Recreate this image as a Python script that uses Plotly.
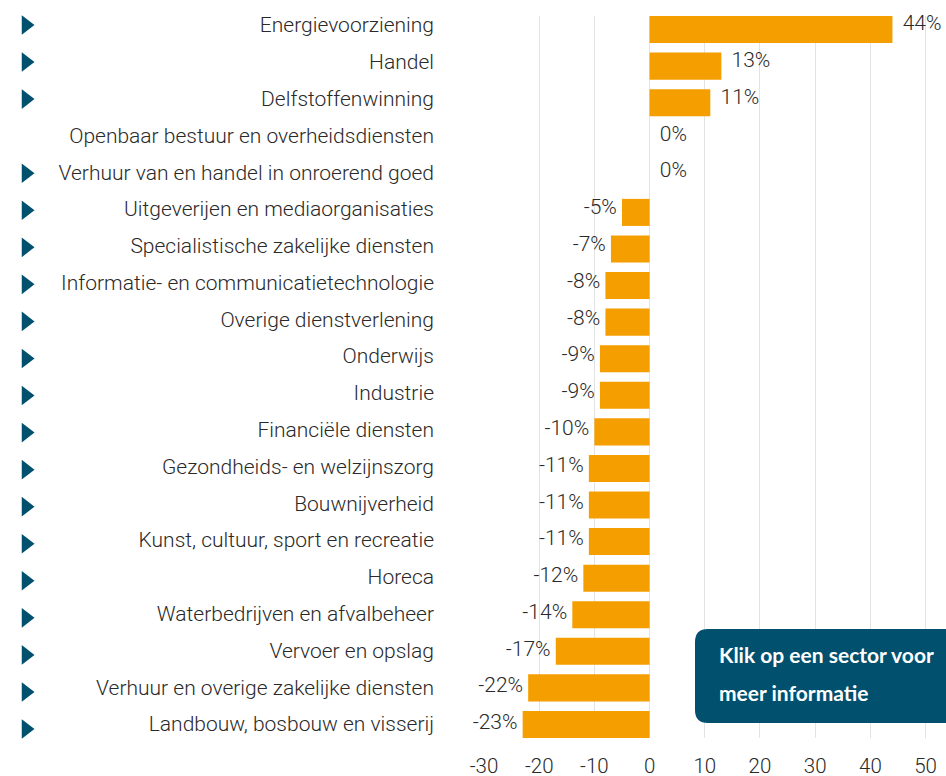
import plotly.graph_objects as go

categories = [
    "Energievoorziening", "Handel", "Delfstoffenwinning",
    "Openbaar bestuur en overheidsdiensten", "Verhuur van en handel in onroerend goed",
    "Uitgeverijen en mediaorganisaties", "Specialistische zakelijke diensten",
    "Informatie- en communicatietechnologie", "Overige dienstverlening", "Onderwijs",
    "Industrie", "Financiële diensten", "Gezondheids- en welzijnszorg", "Bouwnijverheid",
    "Kunst, cultuur, sport en recreatie", "Horeca", "Waterbedrijven en afvalbeheer",
    "Vervoer en opslag", "Verhuur en overige zakelijke diensten",
    "Landbouw, bosbouw en visserij",
]
values = [44, 13, 11, 0, 0, -5, -7, -8, -8, -9, -9, -10, -11, -11, -11, -12, -14, -17, -22, -23]
has_link = [True, True, True, False, True, True, True, True, True, True,
            True, True, True, True, True, True, True, True, True, True]
x_ticks = [-30, -20, -10, 0, 10, 20, 30, 40, 50]
note_lines = ["Klik op een sector voor", "meer informatie"]

W, H = 946, 776
L_PX, T_PX, B_PX = 484, 16, 38
plot_h = H - T_PX - B_PX
PLOT_TOP, PLOT_BOT = T_PX, H - B_PX

ORANGE = "#f59e00"
TEAL = "#00506e"
TXT = "#2a2a2a"
FONT = "Roboto Light, Roboto"

n = len(categories)
half = 0.74 / 2


def row_range(first_px, last_px):
    """Category-axis range so row 0 sits at first_px and the last row at last_px."""
    step = (last_px - first_px) / (n - 1)
    return [n - 1 + (PLOT_BOT - last_px) / step, -(first_px - PLOT_TOP) / step]


fig = go.Figure()
fig.add_trace(go.Bar(
    y=categories, x=values, orientation="h",
    marker=dict(color=ORANGE, line=dict(width=0)),
    width=0.74, xaxis="x", yaxis="y", hoverinfo="y+x",
))
pos_idx = [i for i, v in enumerate(values) if v >= 0]
neg_idx = [i for i, v in enumerate(values) if v < 0]
fig.add_trace(go.Scatter(
    y=[categories[i] for i in pos_idx], x=[values[i] for i in pos_idx],
    mode="text", text=[f"  {values[i]}%" for i in pos_idx],
    textposition="middle right", cliponaxis=False,
    textfont=dict(family=FONT, size=21, color=TXT, weight=300),
    xaxis="x", yaxis="y2", hoverinfo="skip",
))
fig.add_trace(go.Scatter(
    y=[categories[i] for i in neg_idx], x=[values[i] for i in neg_idx],
    mode="text", text=[f"{values[i]}% " for i in neg_idx],
    textposition="middle left", cliponaxis=False,
    textfont=dict(family=FONT, size=21, color=TXT, weight=300),
    xaxis="x", yaxis="y2", hoverinfo="skip",
))
tri_cats = [c for c, h in zip(categories, has_link) if h]
fig.add_trace(go.Scatter(
    y=tri_cats, x=[0] * len(tri_cats), mode="markers",
    marker=dict(symbol="triangle-right", size=17, color=TEAL, line=dict(width=0)),
    xaxis="x2", yaxis="y3", hoverinfo="skip", cliponaxis=False,
))

cat_common = dict(categoryorder="array", categoryarray=categories,
                  showgrid=False, zeroline=False, showline=False, ticks="",
                  fixedrange=True, automargin=False)

fig.update_layout(
    width=W, height=H, autosize=False,
    margin=dict(l=0, r=0, t=T_PX, b=B_PX, pad=0, autoexpand=False),
    paper_bgcolor="white", plot_bgcolor="white",
    showlegend=False,
    font=dict(family=FONT, color=TXT),
    xaxis=dict(
        domain=[L_PX / W, 1], range=[-30, 53.7],
        tickvals=x_ticks, ticktext=[str(t) for t in x_ticks],
        showgrid=True, gridcolor="#e3e3e3", gridwidth=1,
        zeroline=False, showline=False, ticks="",
        ticklabelstandoff=13,
        tickfont=dict(family=FONT, size=20.5, color=TXT, weight=300),
        anchor="y", fixedrange=True, automargin=False,
    ),
    xaxis2=dict(
        domain=[0, 52 / W], range=[-1, 1], visible=False, anchor="y3",
        fixedrange=True, automargin=False,
    ),
    yaxis=dict(range=[n - 1 + half, -half], showticklabels=False,
               anchor="x", **cat_common),
    yaxis2=dict(range=row_range(25, 724), overlaying="y", side="left", anchor="x",
                ticklabelstandoff=49,
                tickfont=dict(family=FONT, size=21, color=TXT, weight=300),
                **cat_common),
    yaxis3=dict(range=row_range(25, 729), overlaying="y", anchor="x2",
                showticklabels=False, **cat_common),
)

# rounded info box (pixel geometry converted to paper coordinates)
def px(xp):
    return xp / W

def py(yp):
    return (PLOT_BOT - yp) / plot_h

x0, x1, y0, y1, r = 695, 975, 629, 723, 13
path = (
    f"M {px(x0 + r)} {py(y0)} L {px(x1 - r)} {py(y0)} "
    f"Q {px(x1)} {py(y0)} {px(x1)} {py(y0 + r)} L {px(x1)} {py(y1 - r)} "
    f"Q {px(x1)} {py(y1)} {px(x1 - r)} {py(y1)} L {px(x0 + r)} {py(y1)} "
    f"Q {px(x0)} {py(y1)} {px(x0)} {py(y1 - r)} L {px(x0)} {py(y0 + r)} "
    f"Q {px(x0)} {py(y0)} {px(x0 + r)} {py(y0)} Z"
)
fig.add_shape(type="path", path=path, xref="paper", yref="paper",
              fillcolor=TEAL, line=dict(width=0), layer="above")
for line, yc in zip(note_lines, [654, 692]):
    fig.add_annotation(
        text=line, xref="paper", yref="paper", x=px(717), y=py(yc),
        xanchor="left", yanchor="middle", showarrow=False,
        font=dict(family="Lato", size=21, color="white", weight=700),
    )

fig.write_html(
    "out.html",
    config={"displayModeBar": False},
    post_script="document.body.style.margin='0';document.body.style.overflow='hidden';",
)
